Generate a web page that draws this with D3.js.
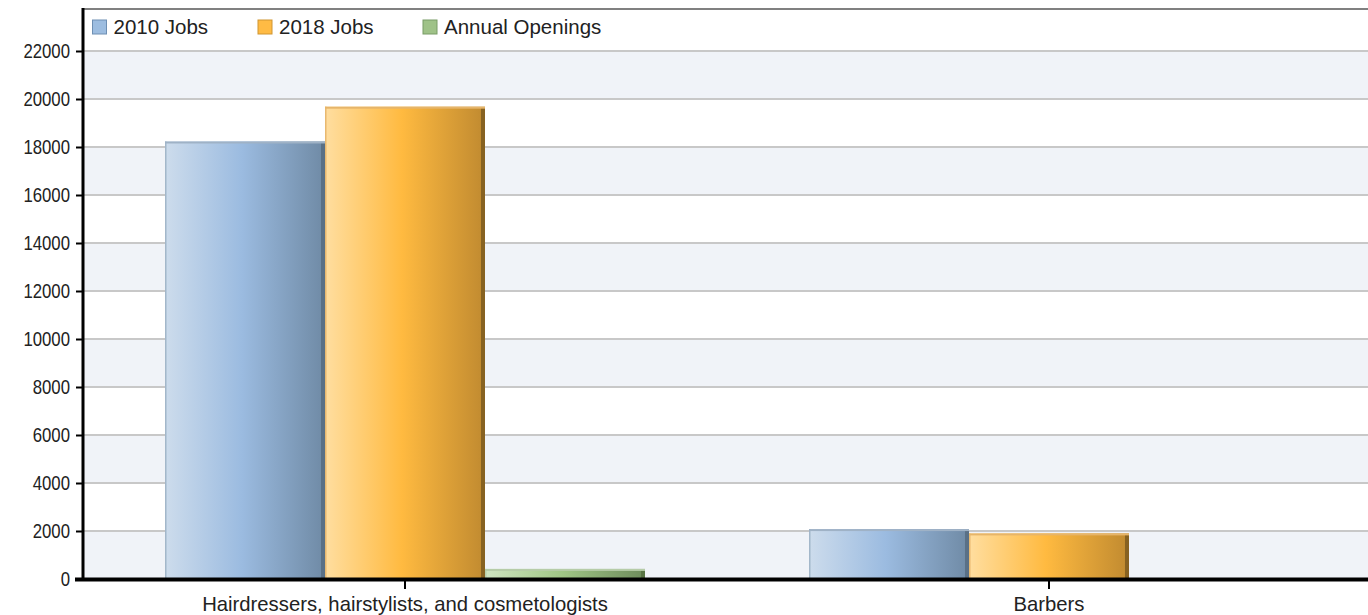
<!DOCTYPE html>
<html>
<head>
<meta charset="utf-8">
<script src="https://cdn.jsdelivr.net/npm/d3@7"></script>
<style>
  html, body { margin: 0; padding: 0; background: #fff; }
  svg { display: block; font-family: "Liberation Sans", Arial, sans-serif; }
</style>
</head>
<body>
<svg id="chart" width="1368" height="615"></svg>
<script>
// ---- data ----
const categories = ["Hairdressers, hairstylists, and cosmetologists", "Barbers"];
const seriesNames = ["2010 Jobs", "2018 Jobs", "Annual Openings"];
const jobs2010 = [18230, 2080];
const jobs2018 = [19680, 1900];
const annualOpenings = [420, 0];
const yTicks = [0, 2000, 4000, 6000, 8000, 10000, 12000, 14000, 16000, 18000, 20000, 22000];

const seriesValues = [jobs2010, jobs2018, annualOpenings];

// ---- layout ----
const svg = d3.select("#chart");
const plotLeft = 83, plotRight = 1371, plotTop = 9, plotBottom = 579;

const y = d3.scaleLinear().domain([0, 23750]).range([plotBottom, plotTop]);
const x = d3.scaleBand().domain(categories).range([plotLeft, plotRight])
  .paddingInner(0.2547).paddingOuter(0.12735);
const xs = d3.scaleBand().domain(seriesNames).range([0, x.bandwidth()]);

const colors = {
  "2010 Jobs":       { stops: ["#cddcec", "#9bbbe0", "#6f8aa5"], edge: "#566b80", topc: "#9fb2c6", legend: "#9dbde0", legendStroke: "#6e8fb3" },
  "2018 Jobs":       { stops: ["#ffdea0", "#ffba40", "#c08a30"], edge: "#7d5a1e", topc: "#e6b56a", legend: "#ffbb44", legendStroke: "#d09530" },
  "Annual Openings": { stops: ["#d0e5c2", "#a0c686", "#6e8c5c"], edge: "#55703f", topc: "#b6cca8", legend: "#9fc288", legendStroke: "#789c66" }
};

// gradients
const defs = svg.append("defs");
seriesNames.forEach((s, i) => {
  const g = defs.append("linearGradient").attr("id", "grad" + i)
    .attr("x1", "0%").attr("x2", "100%").attr("y1", "0%").attr("y2", "0%");
  g.append("stop").attr("offset", "0%").attr("stop-color", colors[s].stops[0]);
  g.append("stop").attr("offset", "48%").attr("stop-color", colors[s].stops[1]);
  g.append("stop").attr("offset", "100%").attr("stop-color", colors[s].stops[2]);
});

// alternating bands
const bandG = svg.append("g");
for (let i = 0; i < yTicks.length - 1; i++) {
  if (i % 2 === 0) {
    bandG.append("rect")
      .attr("x", plotLeft).attr("width", 1368 - plotLeft)
      .attr("y", y(yTicks[i + 1])).attr("height", y(yTicks[i]) - y(yTicks[i + 1]))
      .attr("fill", "#f0f3f8");
  }
}

// gridlines
svg.append("g").selectAll("line").data(yTicks.filter(t => t > 0)).join("line")
  .attr("x1", plotLeft).attr("x2", 1368)
  .attr("y1", d => y(d)).attr("y2", d => y(d))
  .attr("stroke", "#c8c8c8").attr("stroke-width", 2);

// top border
svg.append("line").attr("x1", plotLeft).attr("x2", 1368).attr("y1", plotTop).attr("y2", plotTop)
  .attr("stroke", "#808080").attr("stroke-width", 2);

// bars
const barG = svg.append("g");
categories.forEach((c, ci) => {
  seriesNames.forEach((s, si) => {
    const v = seriesValues[si][ci];
    if (!v) return;
    const bx = x(c) + xs(s), bw = xs.bandwidth();
    const by = y(v), bh = y(0) - y(v);
    barG.append("rect").attr("x", bx).attr("y", by).attr("width", bw).attr("height", bh)
      .attr("fill", `url(#grad${si})`);
    barG.append("rect").attr("x", bx + bw - 4).attr("y", by + 1).attr("width", 4).attr("height", bh - 1)
      .attr("fill", colors[s].edge).attr("opacity", 0.85);
    barG.append("rect").attr("x", bx).attr("y", by).attr("width", 1.5).attr("height", bh)
      .attr("fill", colors[s].topc).attr("opacity", 0.9);
    barG.append("rect").attr("x", bx).attr("y", by).attr("width", bw).attr("height", 2)
      .attr("fill", colors[s].topc);
  });
});

// y axis
const narrow = 0.86;
const yAxis = d3.axisLeft(y).tickValues(yTicks).tickSize(7).tickPadding(6).tickFormat(d3.format("d"));
const yg = svg.append("g").attr("transform", `translate(${plotLeft},0)`).call(yAxis);
yg.select(".domain").remove();
yg.selectAll(".tick line").attr("stroke", "#000").attr("stroke-width", 2);
yg.selectAll(".tick text").attr("font-size", 19.5).attr("fill", "#222")
  .attr("font-family", "'Liberation Sans', Arial, sans-serif")
  .attr("x", -13 / narrow)
  .attr("transform", `scale(${narrow},1)`);
svg.append("line").attr("x1", plotLeft).attr("x2", plotLeft).attr("y1", plotTop - 1).attr("y2", plotBottom + 2)
  .attr("stroke", "#000").attr("stroke-width", 3);

// x axis
const xAxis = d3.axisBottom(x).tickSize(8).tickPadding(8);
const xg = svg.append("g").attr("transform", `translate(0,${plotBottom + 2})`).call(xAxis);
xg.select(".domain").remove();
xg.selectAll(".tick line").attr("stroke", "#000").attr("stroke-width", 2);
xg.selectAll(".tick text").attr("font-size", 20.3).attr("fill", "#222")
  .attr("font-family", "'Liberation Sans', Arial, sans-serif");
svg.append("line").attr("x1", plotLeft - 8).attr("x2", 1368).attr("y1", plotBottom + 0.5).attr("y2", plotBottom + 0.5)
  .attr("stroke", "#000").attr("stroke-width", 4);

// legend
const legendX = [92.5, 258, 423];
const lg = svg.append("g");
seriesNames.forEach((s, i) => {
  const g = lg.append("g").attr("transform", `translate(${legendX[i]},20)`);
  g.append("rect").attr("width", 14).attr("height", 14)
    .attr("fill", colors[s].legend).attr("stroke", colors[s].legendStroke).attr("stroke-width", 1);
  g.append("text").attr("x", 21).attr("y", 14).attr("font-size", 20.5).attr("fill", "#222").text(s);
});
</script>
</body>
</html>
